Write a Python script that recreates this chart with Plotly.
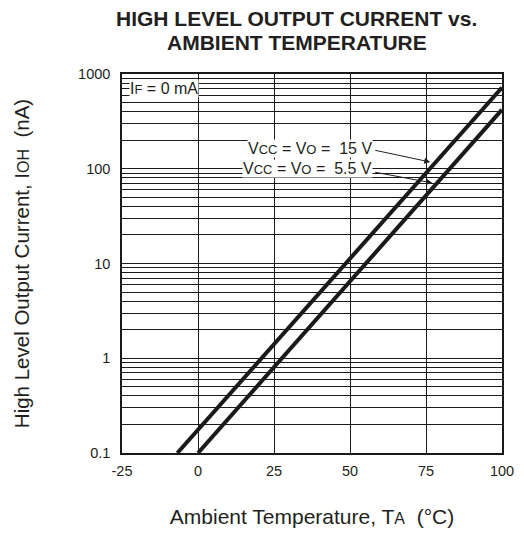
import plotly.graph_objects as go

# Data
temp_15v = [-6.8, 100]
ioh_15v = [0.1, 720]
temp_55v = [0, 100]
ioh_55v = [0.1, 420]

x_tickvals = [-25, 0, 25, 50, 75, 100]
x_ticktext = ["-25", "0", "25", "50", "75", "100"]

y_major = [0.1, 1, 10, 100, 1000]
y_major_text = ["0.1", "1", "10", "100", "1000"]

title_lines = ["HIGH LEVEL OUTPUT CURRENT vs.", "AMBIENT TEMPERATURE"]

FONT = "Liberation Sans, Arial, sans-serif"
INK = "#231f20"

# y tick values incl. minor grid (1..9 per decade)
y_tickvals = []
y_ticktext = []
for d in [0.1, 1, 10, 100]:
    for m in range(1, 10):
        v = round(d * m, 6)
        y_tickvals.append(v)
        y_ticktext.append(y_major_text[y_major.index(d)] if m == 1 else "")
y_tickvals.append(1000)
y_ticktext.append("1000")

fig = go.Figure()
fig.add_trace(go.Scatter(x=temp_15v, y=ioh_15v, mode="lines",
                         line=dict(color="#1a1a1a", width=4), showlegend=False))
fig.add_trace(go.Scatter(x=temp_55v, y=ioh_55v, mode="lines",
                         line=dict(color="#1a1a1a", width=4), showlegend=False))

small = '<span style="font-size:13px">{}</span>'

fig.add_annotation(x=-22.8, y=2.842, xref="x", yref="y", xanchor="left", yanchor="middle",
                   text="I" + small.format("F") + " = 0 mA", showarrow=False,
                   bgcolor="white", borderpad=0,
                   font=dict(family=FONT, size=16, color=INK))
fig.add_annotation(x=57.4, y=2.219, xref="x", yref="y", xanchor="right", yanchor="middle",
                   text="V" + small.format("CC") + " = V" + small.format("O") + " =  15 V",
                   showarrow=False, bgcolor="white", borderpad=0,
                   font=dict(family=FONT, size=16, color=INK))
fig.add_annotation(x=57.4, y=2.0, xref="x", yref="y", xanchor="right", yanchor="middle",
                   text="V" + small.format("CC") + " = V" + small.format("O") + " =  5.5 V",
                   showarrow=False, bgcolor="white", borderpad=0,
                   font=dict(family=FONT, size=16, color=INK))
# arrows
fig.add_annotation(x=76.4, y=2.071, ax=57.8, ay=2.198, xref="x", yref="y", axref="x", ayref="y",
                   text="", showarrow=True, arrowhead=2, arrowsize=1.2, arrowwidth=1,
                   arrowcolor=INK, standoff=0)
fig.add_annotation(x=77.1, y=1.850, ax=57.8, ay=1.966, xref="x", yref="y", axref="x", ayref="y",
                   text="", showarrow=True, arrowhead=2, arrowsize=1.2, arrowwidth=1,
                   arrowcolor=INK, standoff=0)

# title (two lines)
for line_text, shift in zip(title_lines, [56, 32]):
    fig.add_annotation(x=0.4605, y=1, xref="paper", yref="paper", xanchor="center",
                       yanchor="middle", yshift=shift, showarrow=False,
                       text="<b>" + line_text + "</b>",
                       font=dict(family=FONT, size=21, color=INK))

fig.update_layout(
    width=524, height=535,
    margin=dict(l=114, r=30, t=66, b=90),
    paper_bgcolor="white", plot_bgcolor="white",
    font=dict(family=FONT, color=INK),
    xaxis=dict(range=[-25, 100], tickvals=x_tickvals, ticktext=x_ticktext,
               showgrid=True, gridcolor="#1a1a1a", gridwidth=1,
               showline=True, linecolor="#1a1a1a", linewidth=1.5, mirror=True,
               ticks="outside", ticklen=4, tickcolor="rgba(0,0,0,0)", zeroline=False,
               tickfont=dict(family=FONT, size=14.5, color=INK),
               title=dict(text="Ambient Temperature, T<span style=\"font-size:16px\">A</span>  (°C)",
                          font=dict(family=FONT, size=21, color=INK), standoff=31)),
    yaxis=dict(type="log", range=[-1, 3], tickvals=y_tickvals, ticktext=y_ticktext,
               showgrid=True, gridcolor="#1a1a1a", gridwidth=1,
               showline=True, linecolor="#1a1a1a", linewidth=1.5, mirror=True,
               ticks="outside", ticklen=7, tickcolor="rgba(0,0,0,0)", zeroline=False,
               tickfont=dict(family=FONT, size=14.5, color=INK),
               title=dict(text="High Level Output Current, I<span style=\"font-size:16px\">OH</span>  (nA)",
                          font=dict(family=FONT, size=20.5, color=INK), standoff=43)),
)

fig.write_html("out.html")
